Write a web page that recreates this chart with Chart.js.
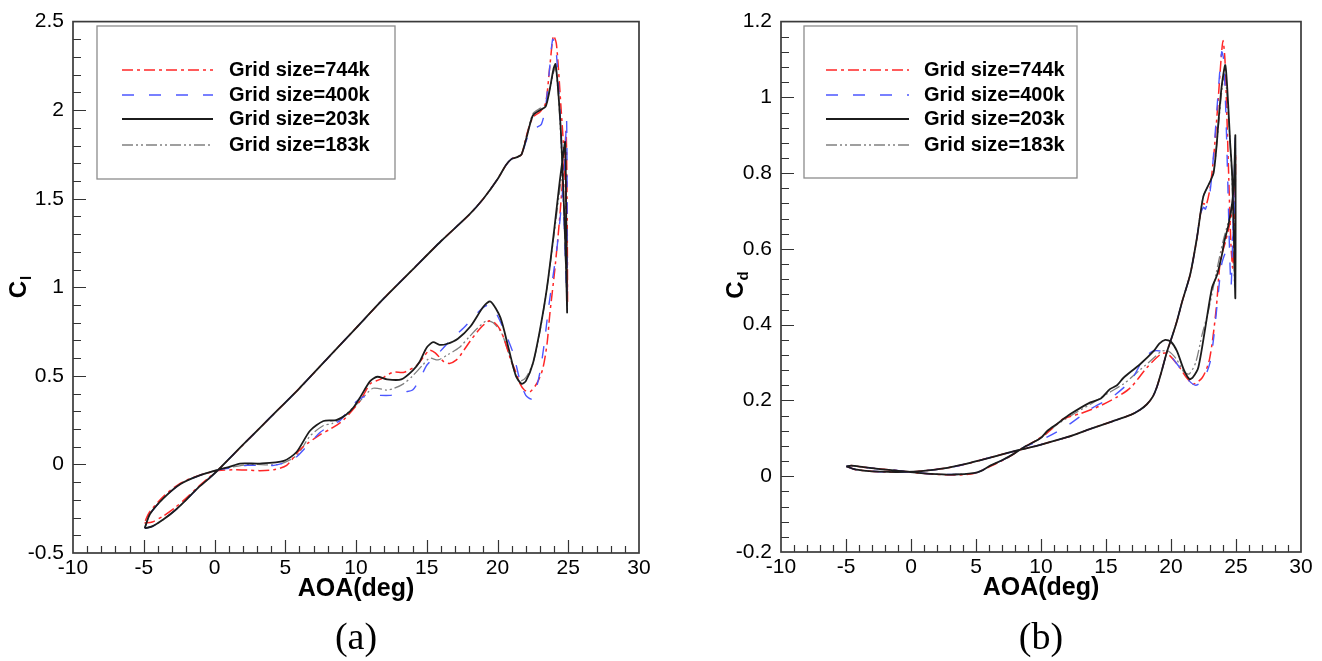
<!DOCTYPE html>
<html>
<head>
<meta charset="utf-8">
<script src="https://cdn.jsdelivr.net/npm/chart.js@4.4.1/dist/chart.umd.min.js"></script>
<style>
body { margin: 0; background: #fff; width: 1322px; height: 661px; position: relative; overflow: hidden; }
canvas { position: absolute; top: 0; }
#chart-cl { left: 0; }
#chart-cd { left: 661px; }
.caption { position: absolute; top: 613px; width: 100px; line-height: 46px; text-align: center; font-family: "Liberation Serif", "Times New Roman", serif; font-size: 38px; color: #000; }
</style>
</head>
<body>
<canvas id="chart-cl" width="661" height="661"></canvas>
<canvas id="chart-cd" width="661" height="661"></canvas>
<div class="caption" style="left:306px">(a)</div>
<div class="caption" style="left:991px">(b)</div>
<script>
// series labels and styles
var gridLabels = ["Grid size=744k", "Grid size=400k", "Grid size=203k", "Grid size=183k"];
var lineColors = ["#ff2626", "#4c57ff", "#1c1c1c", "#808080"];
var lineDashes = [[11, 4, 3, 4], [12, 15], [], [11, 3, 2, 3, 2, 3]];
var lineWidths = [1.5, 1.4, 1.8, 1.3];
var drawOrder = [2, 1, 0, 3];

// axis ticks
var aoaTicks = [-10, -5, 0, 5, 10, 15, 20, 25, 30];
var clTicks = [-0.5, 0, 0.5, 1, 1.5, 2, 2.5];
var cdTicks = [-0.2, 0, 0.2, 0.4, 0.6, 0.8, 1, 1.2];

// lift coefficient loops, [AOA, Cl]
var cl744 = [[-4.95,-0.33],[-4.4,-0.325],[-3.6,-0.29],[-2.8,-0.245],[-2.0,-0.19],[-1.2,-0.13],[-0.4,-0.075],[0.27,-0.03],[2,0.11],[4,0.27],[6,0.43],[8,0.6],[10,0.77],[12,0.94],[14,1.1],[16,1.26],[18,1.41],[19,1.5],[20,1.61],[20.6,1.69],[21,1.725],[21.4,1.735],[21.7,1.75],[22.1,1.87],[22.5,1.96],[23.0,1.99],[23.4,2.04],[23.7,2.25],[23.95,2.42],[24.15,2.38],[24.3,2.24],[24.5,2.0],[24.65,1.82],[24.8,1.55],[24.9,1.25],[24.95,0.92],[24.92,1.45],[24.85,1.88],[24.72,1.72],[24.55,1.55],[24.35,1.35],[24.05,1.1],[23.7,0.85],[23.5,0.68],[23.2,0.54],[22.8,0.46],[22.3,0.41],[21.9,0.42],[21.6,0.455],[21.3,0.52],[20.9,0.6],[20.5,0.7],[20.2,0.76],[19.8,0.8],[19.4,0.81],[18.8,0.77],[18.1,0.7],[17.5,0.63],[17.1,0.59],[16.6,0.57],[16.2,0.58],[15.6,0.63],[15.2,0.645],[14.8,0.61],[14.3,0.56],[13.4,0.52],[12.6,0.52],[11.7,0.48],[11.0,0.455],[10.3,0.36],[9.1,0.25],[8.2,0.2],[7.5,0.17],[6.6,0.12],[6.0,0.08],[5.1,-0.005],[4.2,-0.03],[3.2,-0.035],[2.3,-0.032],[1.5,-0.03],[0.27,-0.035],[-1.0,-0.06],[-2.4,-0.105],[-3.6,-0.18],[-4.6,-0.27],[-4.95,-0.33]];
var cl400 = [[-4.93,-0.36],[-4.4,-0.35],[-3.6,-0.31],[-2.8,-0.26],[-2.0,-0.2],[-1.2,-0.135],[-0.4,-0.08],[0.27,-0.03],[2,0.11],[4,0.27],[6,0.43],[8,0.6],[10,0.77],[12,0.94],[14,1.1],[16,1.26],[18,1.41],[19,1.5],[20,1.61],[20.6,1.69],[21,1.725],[21.4,1.735],[21.7,1.75],[22.0,1.82],[22.3,1.88],[22.7,1.9],[23.1,1.92],[23.4,2.02],[23.7,2.25],[23.9,2.4],[24.1,2.37],[24.3,2.15],[24.5,1.85],[24.65,1.5],[24.8,1.15],[24.9,0.95],[24.92,1.5],[24.88,1.95],[24.75,1.7],[24.5,1.45],[24.2,1.22],[23.9,1.05],[23.6,0.88],[23.3,0.68],[23.0,0.52],[22.7,0.42],[22.4,0.37],[22.0,0.39],[21.6,0.47],[21.1,0.63],[20.4,0.77],[19.8,0.87],[19.4,0.9],[18.9,0.88],[18.3,0.83],[17.6,0.77],[16.9,0.72],[16.2,0.66],[15.5,0.6],[15.0,0.56],[14.5,0.48],[14.0,0.42],[13.5,0.41],[12.4,0.39],[11.2,0.39],[10.5,0.38],[9.8,0.34],[8.9,0.25],[8.0,0.21],[7.45,0.18],[6.5,0.1],[5.6,0.03],[4.2,-0.005],[2.3,-0.005],[1.2,-0.02],[0.27,-0.03],[-1.0,-0.06],[-2.4,-0.11],[-3.6,-0.19],[-4.56,-0.28],[-4.93,-0.36]];
var cl203 = [[-4.93,-0.36],[-4.4,-0.35],[-3.6,-0.31],[-2.8,-0.26],[-2.0,-0.2],[-1.2,-0.135],[-0.4,-0.08],[0.27,-0.03],[2,0.11],[4,0.27],[6,0.43],[8,0.6],[10,0.77],[12,0.94],[14,1.1],[16,1.26],[18,1.41],[19,1.5],[20,1.61],[20.6,1.69],[21,1.725],[21.4,1.735],[21.7,1.75],[22.1,1.86],[22.5,1.97],[23.0,2.0],[23.4,2.02],[23.7,2.12],[23.95,2.23],[24.1,2.26],[24.3,2.1],[24.5,1.85],[24.7,1.45],[24.85,1.1],[24.92,0.86],[24.85,1.45],[24.78,1.82],[24.65,1.75],[24.4,1.6],[24.0,1.32],[23.5,1.0],[23.0,0.76],[22.5,0.57],[22.0,0.47],[21.7,0.455],[21.3,0.5],[20.8,0.65],[20.2,0.83],[19.5,0.92],[19.0,0.89],[18.1,0.78],[17.2,0.71],[16.4,0.68],[15.9,0.675],[15.45,0.69],[15.0,0.66],[14.5,0.58],[14.0,0.53],[13.2,0.48],[12.2,0.48],[11.5,0.495],[11.0,0.47],[10.3,0.38],[9.8,0.32],[9.3,0.28],[8.6,0.25],[7.7,0.245],[6.75,0.19],[5.8,0.07],[4.9,0.02],[3.2,0.005],[1.8,0.005],[1.0,-0.015],[0.27,-0.03],[-1.0,-0.06],[-2.4,-0.11],[-3.6,-0.19],[-4.56,-0.28],[-4.93,-0.36]];
var cl183 = [[-4.93,-0.36],[-4.4,-0.35],[-3.6,-0.31],[-2.8,-0.26],[-2.0,-0.2],[-1.2,-0.135],[-0.4,-0.08],[0.27,-0.03],[2,0.11],[4,0.27],[6,0.43],[8,0.6],[10,0.77],[12,0.94],[14,1.1],[16,1.26],[18,1.41],[19,1.5],[20,1.61],[20.6,1.69],[21,1.725],[21.4,1.735],[21.7,1.75],[22.1,1.87],[22.5,1.98],[23.0,2.01],[23.4,2.03],[23.7,2.12],[23.95,2.21],[24.1,2.24],[24.3,2.08],[24.5,1.8],[24.7,1.4],[24.85,1.05],[24.92,0.9],[24.88,1.3],[24.8,1.7],[24.65,1.68],[24.4,1.55],[24.0,1.3],[23.5,1.0],[23.0,0.75],[22.5,0.57],[22.0,0.49],[21.6,0.47],[21.35,0.49],[20.9,0.6],[20.3,0.74],[19.7,0.8],[19.2,0.81],[18.6,0.77],[18.0,0.72],[17.3,0.66],[16.5,0.62],[15.8,0.59],[15.2,0.6],[14.7,0.56],[14.0,0.5],[13.35,0.455],[12.7,0.43],[12.2,0.42],[11.2,0.43],[10.3,0.36],[9.1,0.27],[8.3,0.23],[7.7,0.22],[6.75,0.16],[5.8,0.05],[4.5,0.0],[2.5,0.0],[1.2,-0.015],[0.27,-0.03],[-1.0,-0.06],[-2.4,-0.11],[-3.6,-0.19],[-4.56,-0.28],[-4.93,-0.36]];

// drag coefficient loops, [AOA, Cd]
var cd744 = [[-4.98,0.026],[-4.3,0.018],[-3.65,0.015],[-2.4,0.012],[-1.1,0.011],[0.2,0.012],[1.5,0.016],[2.8,0.022],[4.05,0.031],[5.3,0.042],[6.6,0.054],[8.4,0.07],[9.95,0.083],[12,0.103],[13.8,0.125],[15.5,0.145],[16.9,0.162],[17.6,0.175],[18.15,0.19],[18.6,0.21],[18.9,0.234],[19.3,0.28],[19.7,0.33],[20.0,0.36],[20.46,0.41],[20.85,0.46],[21.48,0.533],[22.0,0.63],[22.25,0.69],[22.5,0.72],[22.7,0.715],[23.0,0.76],[23.3,0.85],[23.6,0.98],[23.85,1.1],[24.0,1.15],[24.15,1.1],[24.3,0.95],[24.45,0.78],[24.6,0.62],[24.75,0.55],[24.9,0.68],[24.97,0.85],[24.85,0.75],[24.6,0.68],[24.2,0.62],[23.8,0.57],[23.5,0.45],[23.2,0.36],[22.9,0.3],[22.4,0.26],[21.7,0.243],[21.2,0.26],[20.6,0.29],[20.0,0.315],[19.6,0.325],[19.2,0.322],[18.15,0.287],[16.9,0.234],[15.8,0.208],[14.5,0.185],[13.0,0.165],[11.7,0.151],[10.5,0.115],[9.6,0.094],[8.66,0.076],[7.5,0.05],[6.1,0.026],[4.82,0.007],[3.28,0.003],[1.48,0.006],[0.2,0.01],[-1.08,0.015],[-2.37,0.019],[-3.65,0.024],[-4.6,0.028],[-4.98,0.026]];
var cd400 = [[-4.98,0.026],[-4.3,0.018],[-3.65,0.015],[-2.4,0.012],[-1.1,0.011],[0.2,0.012],[1.5,0.016],[2.8,0.022],[4.05,0.031],[5.3,0.042],[6.6,0.054],[8.4,0.07],[9.95,0.083],[12,0.103],[13.8,0.125],[15.5,0.145],[16.9,0.162],[17.6,0.175],[18.15,0.19],[18.6,0.21],[18.9,0.234],[19.3,0.28],[19.7,0.33],[20.0,0.36],[20.46,0.41],[20.85,0.46],[21.48,0.533],[22.0,0.63],[22.25,0.69],[22.5,0.71],[22.65,0.705],[23.0,0.75],[23.3,0.86],[23.6,1.0],[23.9,1.12],[24.05,1.1],[24.2,0.98],[24.35,0.8],[24.5,0.6],[24.62,0.5],[24.8,0.7],[24.95,0.9],[24.9,0.7],[24.7,0.62],[24.3,0.6],[23.9,0.56],[23.6,0.47],[23.3,0.37],[23.0,0.3],[22.5,0.255],[21.9,0.24],[21.3,0.255],[20.6,0.29],[19.9,0.32],[19.3,0.33],[18.6,0.33],[17.9,0.31],[16.9,0.252],[15.5,0.21],[13.8,0.177],[12.0,0.133],[10.46,0.103],[9.5,0.088],[8.66,0.076],[7.9,0.059],[7.0,0.042],[6.1,0.028],[5.4,0.014],[4.82,0.008],[3.28,0.0045],[1.48,0.0063],[0.2,0.01],[-1.08,0.015],[-2.37,0.019],[-3.65,0.024],[-4.6,0.028],[-4.98,0.026]];
var cd203 = [[-4.98,0.026],[-4.3,0.018],[-3.65,0.015],[-2.4,0.012],[-1.1,0.011],[0.2,0.012],[1.5,0.016],[2.8,0.022],[4.05,0.031],[5.3,0.042],[6.6,0.054],[8.4,0.07],[9.95,0.083],[12,0.103],[13.8,0.125],[15.5,0.145],[16.9,0.162],[17.6,0.175],[18.15,0.19],[18.6,0.21],[18.9,0.234],[19.3,0.28],[19.7,0.33],[20.0,0.36],[20.46,0.41],[20.85,0.46],[21.48,0.533],[22.0,0.63],[22.25,0.69],[22.5,0.74],[22.9,0.77],[23.27,0.8],[23.5,0.87],[23.66,0.94],[23.9,1.03],[24.18,1.085],[24.4,0.98],[24.55,0.88],[24.7,0.8],[24.85,0.62],[24.95,0.47],[24.97,0.7],[24.95,0.9],[24.85,0.78],[24.7,0.72],[24.4,0.66],[24.1,0.62],[23.92,0.585],[23.53,0.53],[23.15,0.497],[22.63,0.39],[22.1,0.287],[21.7,0.262],[21.43,0.256],[21.0,0.28],[20.46,0.33],[20.0,0.355],[19.56,0.36],[19.1,0.35],[18.66,0.33],[17.6,0.295],[16.35,0.26],[15.85,0.24],[15.3,0.23],[14.6,0.205],[13.8,0.195],[12.26,0.164],[11.23,0.138],[10.5,0.12],[9.95,0.1],[8.66,0.076],[7.9,0.059],[7.0,0.042],[6.1,0.028],[5.4,0.014],[4.82,0.008],[3.28,0.0045],[1.48,0.0063],[0.2,0.01],[-1.08,0.015],[-2.37,0.019],[-3.65,0.024],[-4.6,0.028],[-4.98,0.026]];
var cd183 = [[-4.98,0.026],[-4.3,0.018],[-3.65,0.015],[-2.4,0.012],[-1.1,0.011],[0.2,0.012],[1.5,0.016],[2.8,0.022],[4.05,0.031],[5.3,0.042],[6.6,0.054],[8.4,0.07],[9.95,0.083],[12,0.103],[13.8,0.125],[15.5,0.145],[16.9,0.162],[17.6,0.175],[18.15,0.19],[18.6,0.21],[18.9,0.234],[19.3,0.28],[19.7,0.33],[20.0,0.36],[20.46,0.41],[20.85,0.46],[21.48,0.533],[22.0,0.63],[22.25,0.69],[22.5,0.74],[22.9,0.77],[23.27,0.8],[23.66,0.93],[23.95,1.03],[24.15,1.06],[24.4,0.96],[24.7,0.78],[24.9,0.5],[24.95,0.85],[24.8,0.72],[24.4,0.67],[24.0,0.62],[23.5,0.54],[22.9,0.44],[22.4,0.375],[21.9,0.3],[21.4,0.27],[21.0,0.275],[20.4,0.31],[19.8,0.33],[19.3,0.33],[18.6,0.31],[17.6,0.28],[16.4,0.245],[15.2,0.22],[13.8,0.19],[12.3,0.16],[11.2,0.135],[9.95,0.1],[8.66,0.076],[7.9,0.059],[7.0,0.042],[6.1,0.028],[5.4,0.014],[4.82,0.008],[3.28,0.0045],[1.48,0.0063],[0.2,0.01],[-1.08,0.015],[-2.37,0.019],[-3.65,0.024],[-4.6,0.028],[-4.98,0.026]];

var AXIS_FONT = "'Liberation Sans', Arial, sans-serif";

// frame, inward ticks, axis titles and boxed legend
var tecplotDecor = {
	id: "tecplotDecor",
	afterDraw: function(chart, args, opts) {
		var ctx = chart.ctx;
		var area = chart.chartArea;
		var xScale = chart.scales.x, yScale = chart.scales.y;
		var k, n, px, len;

		ctx.save();
		ctx.strokeStyle = "#333";
		ctx.lineWidth = 1.2;
		ctx.beginPath();
		n = Math.round((xScale.max - xScale.min) / opts.xMinor);
		for(k = 1; k < n; k++) {
			px = Math.round(xScale.getPixelForValue(xScale.min + k * opts.xMinor)) + 0.5;
			len = (k % opts.xEvery === 0) ? 13 : 7;
			ctx.moveTo(px, area.bottom);
			ctx.lineTo(px, area.bottom - len);
		}
		n = Math.round((yScale.max - yScale.min) / opts.yMinor);
		for(k = 1; k < n; k++) {
			px = Math.round(yScale.getPixelForValue(yScale.min + k * opts.yMinor)) + 0.5;
			len = (k % opts.yEvery === 0) ? 13 : 8;
			ctx.moveTo(area.left, px);
			ctx.lineTo(area.left + len, px);
		}
		ctx.stroke();

		ctx.strokeStyle = "#3a3a3a";
		ctx.lineWidth = 1.7;
		ctx.strokeRect(area.left, area.top, area.right - area.left, area.bottom - area.top);

		// x axis title
		ctx.fillStyle = "#000";
		ctx.font = "bold 25px " + AXIS_FONT;
		ctx.textAlign = "center";
		ctx.textBaseline = "middle";
		ctx.fillText("AOA(deg)", (area.left + area.right) / 2, area.bottom + 36);

		// y axis title with subscript
		ctx.save();
		ctx.translate(opts.yTitleX, opts.yTitleY);
		ctx.rotate(-Math.PI / 2);
		ctx.textAlign = "left";
		ctx.textBaseline = "alphabetic";
		ctx.font = "bold 24px " + AXIS_FONT;
		var wC = ctx.measureText("C").width;
		ctx.font = "bold 15px " + AXIS_FONT;
		var wSub = ctx.measureText(opts.ySub).width;
		var x0 = -(wC + wSub + 1) / 2;
		ctx.font = "bold 24px " + AXIS_FONT;
		ctx.fillText("C", x0, 8);
		ctx.font = "bold 15px " + AXIS_FONT;
		ctx.fillText(opts.ySub, x0 + wC + 1, 13);
		ctx.restore();

		// legend
		var lg = opts.legend;
		ctx.fillStyle = "#fff";
		ctx.fillRect(lg.left, lg.top, lg.right - lg.left, lg.bottom - lg.top);
		ctx.strokeStyle = "#8c8c8c";
		ctx.lineWidth = 1.3;
		ctx.strokeRect(lg.left, lg.top, lg.right - lg.left, lg.bottom - lg.top);
		ctx.font = "bold 20px " + AXIS_FONT;
		ctx.textAlign = "left";
		ctx.textBaseline = "middle";
		chart.data.datasets.forEach(function(ds, i) {
			var rowY = lg.rows[i];
			ctx.setLineDash(ds.borderDash);
			ctx.strokeStyle = ds.borderColor;
			ctx.lineWidth = ds.borderWidth;
			ctx.beginPath();
			ctx.moveTo(lg.lineStart, rowY);
			ctx.lineTo(lg.lineEnd, rowY);
			ctx.stroke();
			ctx.setLineDash([]);
			ctx.fillStyle = "#000";
			ctx.fillText(ds.label, lg.textX, rowY);
		});
		ctx.restore();
	}
};

function buildDatasets(seriesList) {
	return seriesList.map(function(series, i) {
		return {
			label: gridLabels[i],
			data: series.map(function(p) { return {x: p[0], y: p[1]}; }),
			showLine: true,
			borderColor: lineColors[i],
			borderDash: lineDashes[i],
			borderWidth: lineWidths[i],
			pointRadius: 0,
			tension: 0.25,
			order: drawOrder[i]
		};
	});
}

function makeChart(canvasId, seriesList, yTicks, layout, decor) {
	return new Chart(document.getElementById(canvasId), {
		type: "scatter",
		data: { datasets: buildDatasets(seriesList) },
		options: {
			responsive: false,
			animation: false,
			devicePixelRatio: 1,
			layout: { padding: { left: 0, top: layout.top, right: layout.right, bottom: 0 } },
			plugins: {
				legend: { display: false },
				tooltip: { enabled: false },
				tecplotDecor: decor
			},
			scales: {
				x: {
					type: "linear",
					min: aoaTicks[0],
					max: aoaTicks[aoaTicks.length - 1],
					afterBuildTicks: function(scale) { scale.ticks = aoaTicks.map(function(v) { return {value: v}; }); },
					afterFit: function(scale) { scale.height = layout.xHeight; },
					grid: { display: false, drawTicks: false },
					border: { display: false },
					ticks: {
						autoSkip: false, maxRotation: 0, padding: 3, color: "#000",
						font: { family: AXIS_FONT, size: 21 },
						callback: function(v) { return String(v); }
					}
				},
				y: {
					type: "linear",
					min: yTicks[0],
					max: yTicks[yTicks.length - 1],
					afterBuildTicks: function(scale) { scale.ticks = yTicks.map(function(v) { return {value: v}; }); },
					afterFit: function(scale) { scale.width = layout.yWidth; },
					grid: { display: false, drawTicks: false },
					border: { display: false },
					ticks: {
						autoSkip: false, padding: 9, color: "#000",
						font: { family: AXIS_FONT, size: 21 },
						callback: function(v) { return String(v); }
					}
				}
			}
		},
		plugins: [tecplotDecor]
	});
}

window.onload = function() {
	makeChart("chart-cl", [cl744, cl400, cl203, cl183], clTicks,
		{ top: 20, right: 22, xHeight: 108, yWidth: 73 },
		{ xMinor: 1, xEvery: 5, yMinor: 0.1, yEvery: 5, ySub: "l", yTitleX: 18, yTitleY: 287,
		  legend: { left: 97, top: 26, right: 395, bottom: 179, lineStart: 122, lineEnd: 213, textX: 229, rows: [70, 95, 119, 145] } });

	makeChart("chart-cd", [cd744, cd400, cd203, cd183], cdTicks,
		{ top: 20, right: 21, xHeight: 109, yWidth: 120 },
		{ xMinor: 1, xEvery: 5, yMinor: 0.04, yEvery: 5, ySub: "d", yTitleX: 74, yTitleY: 285,
		  legend: { left: 143, top: 26, right: 416, bottom: 178, lineStart: 165, lineEnd: 248, textX: 263, rows: [70, 95, 119, 145] } });
};
</script>
</body>
</html>
